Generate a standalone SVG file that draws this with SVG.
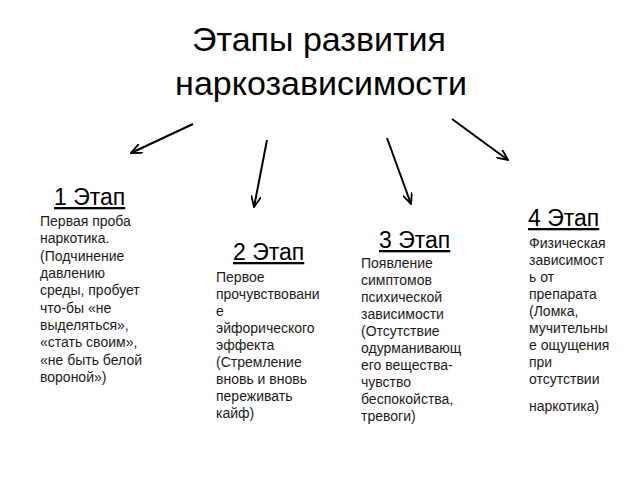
<svg xmlns="http://www.w3.org/2000/svg" width="640" height="480" viewBox="0 0 640 480">
<defs>
<marker id="ah" viewBox="0 0 12 10" refX="11" refY="5" markerWidth="12" markerHeight="10" markerUnits="userSpaceOnUse" orient="auto">
<path d="M0,0 L11,5 L0,10" fill="none" stroke="#000" stroke-width="1.8"/>
</marker>
<style>
text{font-family:"Liberation Sans",Arial,sans-serif;fill:#000}
.t{font-size:34px;text-anchor:middle}
.h{font-size:23px;text-decoration:underline}
.b{font-size:14px;fill:#1a1a1a}
.c{stroke:#000;stroke-width:2;fill:none;marker-end:url(#ah)}
</style>
</defs>
<rect width="640" height="480" fill="#fff"/>
<g id="title">
<text class="t" x="319" y="51">Этапы развития</text>
<text class="t" x="321" y="95">наркозависимости</text>
</g>
<g id="connectors">
<line class="c" x1="193" y1="124" x2="131" y2="153"/>
<line class="c" x1="267" y1="140" x2="254" y2="207"/>
<line class="c" x1="387" y1="138" x2="411" y2="204"/>
<line class="c" x1="452" y1="119" x2="508" y2="160"/>
</g>
<g id="stage1">
<text class="h" x="54" y="205">1 Этап</text>
<text class="b" x="40" y="226">Первая проба</text>
<text class="b" x="40" y="243">наркотика.</text>
<text class="b" x="40" y="261">(Подчинение</text>
<text class="b" x="40" y="278">давлению</text>
<text class="b" x="40" y="295">среды, пробует</text>
<text class="b" x="40" y="313">что-бы «не</text>
<text class="b" x="40" y="330">выделяться»,</text>
<text class="b" x="40" y="347">«стать своим»,</text>
<text class="b" x="40" y="365">«не быть белой</text>
<text class="b" x="40" y="382">вороной»)</text>
</g>
<g id="stage2">
<text class="h" x="233" y="260">2 Этап</text>
<text class="b" x="216" y="282">Первое</text>
<text class="b" x="216" y="299">прочувствовани</text>
<text class="b" x="216" y="316">е</text>
<text class="b" x="216" y="333">эйфорического</text>
<text class="b" x="216" y="350">эффекта</text>
<text class="b" x="216" y="367">(Стремление</text>
<text class="b" x="216" y="384">вновь и вновь</text>
<text class="b" x="216" y="401">переживать</text>
<text class="b" x="216" y="418">кайф)</text>
</g>
<g id="stage3">
<text class="h" x="379" y="248">3 Этап</text>
<text class="b" x="361" y="268">Появление</text>
<text class="b" x="361" y="285">симптомов</text>
<text class="b" x="361" y="302">психической</text>
<text class="b" x="361" y="319">зависимости</text>
<text class="b" x="361" y="336">(Отсутствие</text>
<text class="b" x="361" y="353">одурманивающ</text>
<text class="b" x="361" y="370">его вещества-</text>
<text class="b" x="361" y="387">чувство</text>
<text class="b" x="361" y="404">беспокойства,</text>
<text class="b" x="361" y="421">тревоги)</text>
</g>
<g id="stage4">
<text class="h" x="528" y="226">4 Этап</text>
<text class="b" x="529" y="248">Физическая</text>
<text class="b" x="529" y="265">зависимост</text>
<text class="b" x="529" y="282">ь от</text>
<text class="b" x="529" y="299">препарата</text>
<text class="b" x="529" y="316">(Ломка,</text>
<text class="b" x="529" y="333">мучительны</text>
<text class="b" x="529" y="350">е ощущения</text>
<text class="b" x="529" y="367">при</text>
<text class="b" x="529" y="384">отсутствии</text>
<text class="b" x="529" y="411">наркотика)</text>
</g>
</svg>
